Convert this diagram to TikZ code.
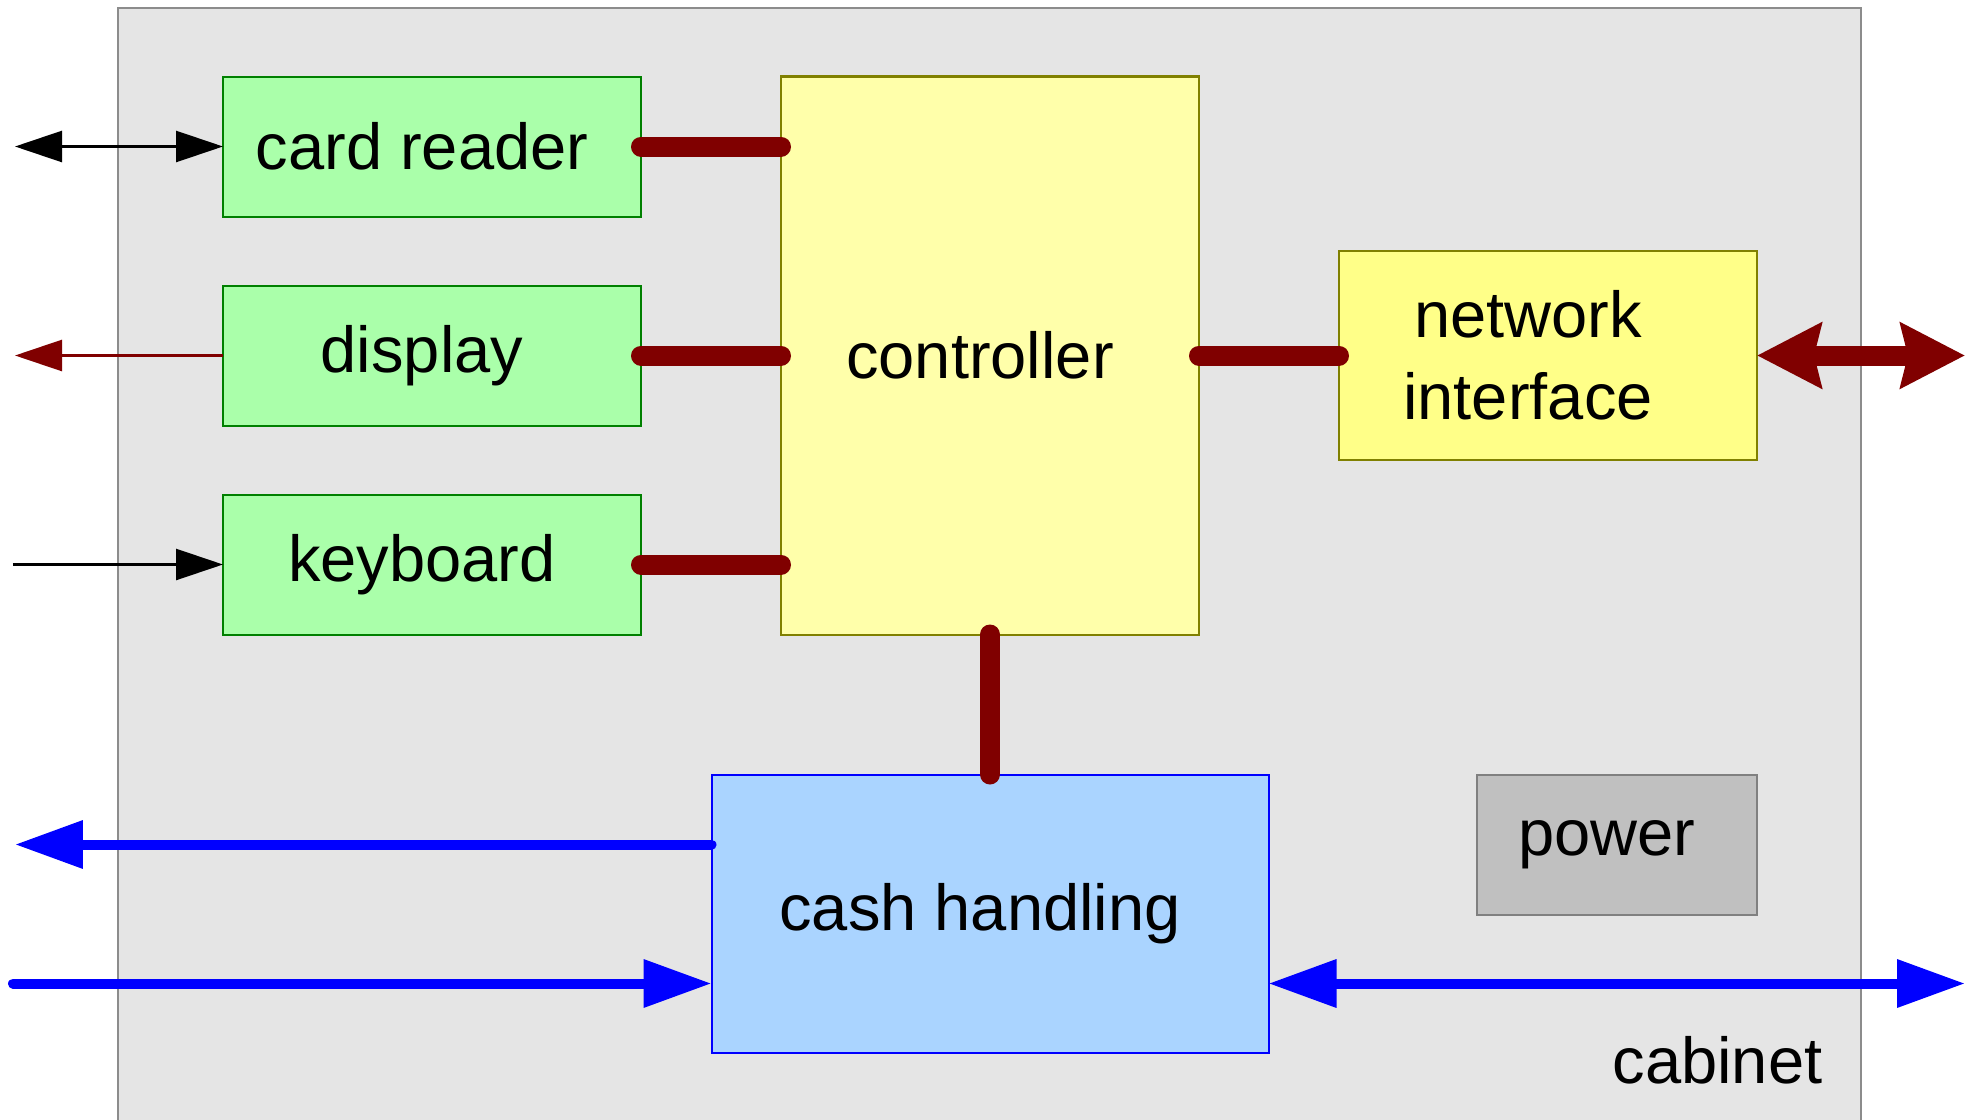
\documentclass[tikz,border=0pt]{standalone}
\usepackage{fontspec}
\setmainfont{Liberation Sans}
\usepackage{tikz}
\usetikzlibrary{arrows.meta, positioning}

\definecolor{cabinetfill}{HTML}{E5E5E5}
\definecolor{cabinetline}{HTML}{8C8C8C}
\definecolor{iofill}{HTML}{AAFFAA}
\definecolor{ioline}{HTML}{008000}
\definecolor{ctrlfill}{HTML}{FFFFAA}
\definecolor{netfill}{HTML}{FFFF88}
\definecolor{ctrlline}{HTML}{808000}
\definecolor{cashfill}{HTML}{AAD4FF}
\definecolor{cashline}{HTML}{0000FF}
\definecolor{powerfill}{HTML}{C0C0C0}
\definecolor{powerline}{HTML}{808080}
\definecolor{wirered}{HTML}{800000}

\begin{document}
\begin{tikzpicture}[
    node distance=0.69cm and 1.4cm,
    font=\fontsize{18.5}{23.3}\selectfont,
    unit/.style={
        rectangle,
        minimum width=4.18cm,
        minimum height=1.4cm,
        text centered,
        inner sep=0pt,
        outer sep=0pt,
        line width=0.02cm,
        execute at begin node={\hspace*{-0.2cm}}
    },
    iounit/.style={
        unit,
        draw=ioline,
        fill=iofill
    },
    ctrlunit/.style={
        unit,
        draw=ctrlline,
        fill=ctrlfill
    },
    cashunit/.style={
        unit,
        draw=cashline,
        fill=cashfill
    },
    powerunit/.style={
        unit,
        draw=powerline,
        fill=powerfill
    },
    cabinetbox/.style={
        draw=cabinetline,
        fill=cabinetfill,
        line width=0.02cm
    },
    wire/.style={
        wirered,
        line width=0.2cm,
        line cap=round
    },
    thinarrow/.style={
        line width=0.025cm,
        -{Triangle[length=0.47cm, width=0.31cm]}
    },
    cashflow/.style={
        cashline,
        line width=0.1cm,
        line cap=round,
        -{Triangle[length=0.68cm, width=0.46cm]}
    },
    netlink/.style={
        wirered,
        line width=0.2cm,
        {Stealth[length=0.64cm, width=0.64cm, inset=0.07cm]}-{Stealth[length=0.64cm, width=0.64cm, inset=0.07cm]}
    }
]
\useasboundingbox (0,0) rectangle (19.71,-11.2);
% CABINET
\draw [cabinetbox] (1.18,-0.08) rectangle (18.61,-11.4);
\node (cabinetlabel) [anchor=east, inner sep=0pt] at (18.23,-10.6) {cabinet};
% LEFT COLUMN
\node (cardreader) [iounit] at (4.32,-1.465) {card reader};
\node (display) [iounit, below=of cardreader] {display};
\node (keyboard) [iounit, below=of display] {keyboard};
% CENTRE AND RIGHT
\node (controller) [ctrlunit, minimum height=5.58cm, right=of display] {controller};
\node (network) [ctrlunit, fill=netfill, minimum height=2.09cm, right=of controller, align=center, execute at begin node={}] {\hspace*{-0.2cm}network\\\hspace*{-0.2cm}interface};
\node (cash) [cashunit, minimum width=5.57cm, minimum height=2.78cm, below=1.4cm of controller] {cash handling};
\node (power) [powerunit, minimum width=2.8cm, anchor=north east] at (network.east |- cash.north) {power};
% OUTSIDE ENDS
\coordinate (outleft) at (0.15,0);
\coordinate (outright) at (19.65,0);
\coordinate (cashout) at ([yshift=-0.7cm]cash.north west);
\coordinate (cashin) at ([yshift=0.69cm]cash.south west);
\coordinate (cashext) at ([yshift=0.69cm]cash.south east);
% INTERNAL WIRES
\draw [wire] (cardreader.east) -- (cardreader.east -| controller.west);
\draw [wire] (display.east) -- (display.east -| controller.west);
\draw [wire] (keyboard.east) -- (keyboard.east -| controller.west);
\draw [wire] (controller.east |- network.west) -- (network.west);
\draw [wire] (controller.south) -- (controller.south |- cash.north);
% EXTERNAL ARROWS
\draw [thinarrow, {Triangle[length=0.47cm, width=0.31cm]}-{Triangle[length=0.47cm, width=0.31cm]}] (outleft |- cardreader.west) -- (cardreader.west);
\draw [thinarrow, wirered, <-, >={Triangle[length=0.47cm, width=0.31cm]}] (outleft |- display.west) -- (display.west);
\draw [thinarrow] ([xshift=-0.02cm]outleft |- keyboard.west) -- (keyboard.west);
\draw [netlink] (network.east) -- (outright |- network.east);
\draw [cashflow] (cashout) -- (outleft |- cashout);
\draw [cashflow] ([xshift=-0.02cm]outleft |- cashin) -- (cashin);
\draw [cashflow, {Triangle[length=0.68cm, width=0.46cm]}-{Triangle[length=0.68cm, width=0.46cm]}] (cashext) -- (outright |- cashext);
\end{tikzpicture}
\end{document}
